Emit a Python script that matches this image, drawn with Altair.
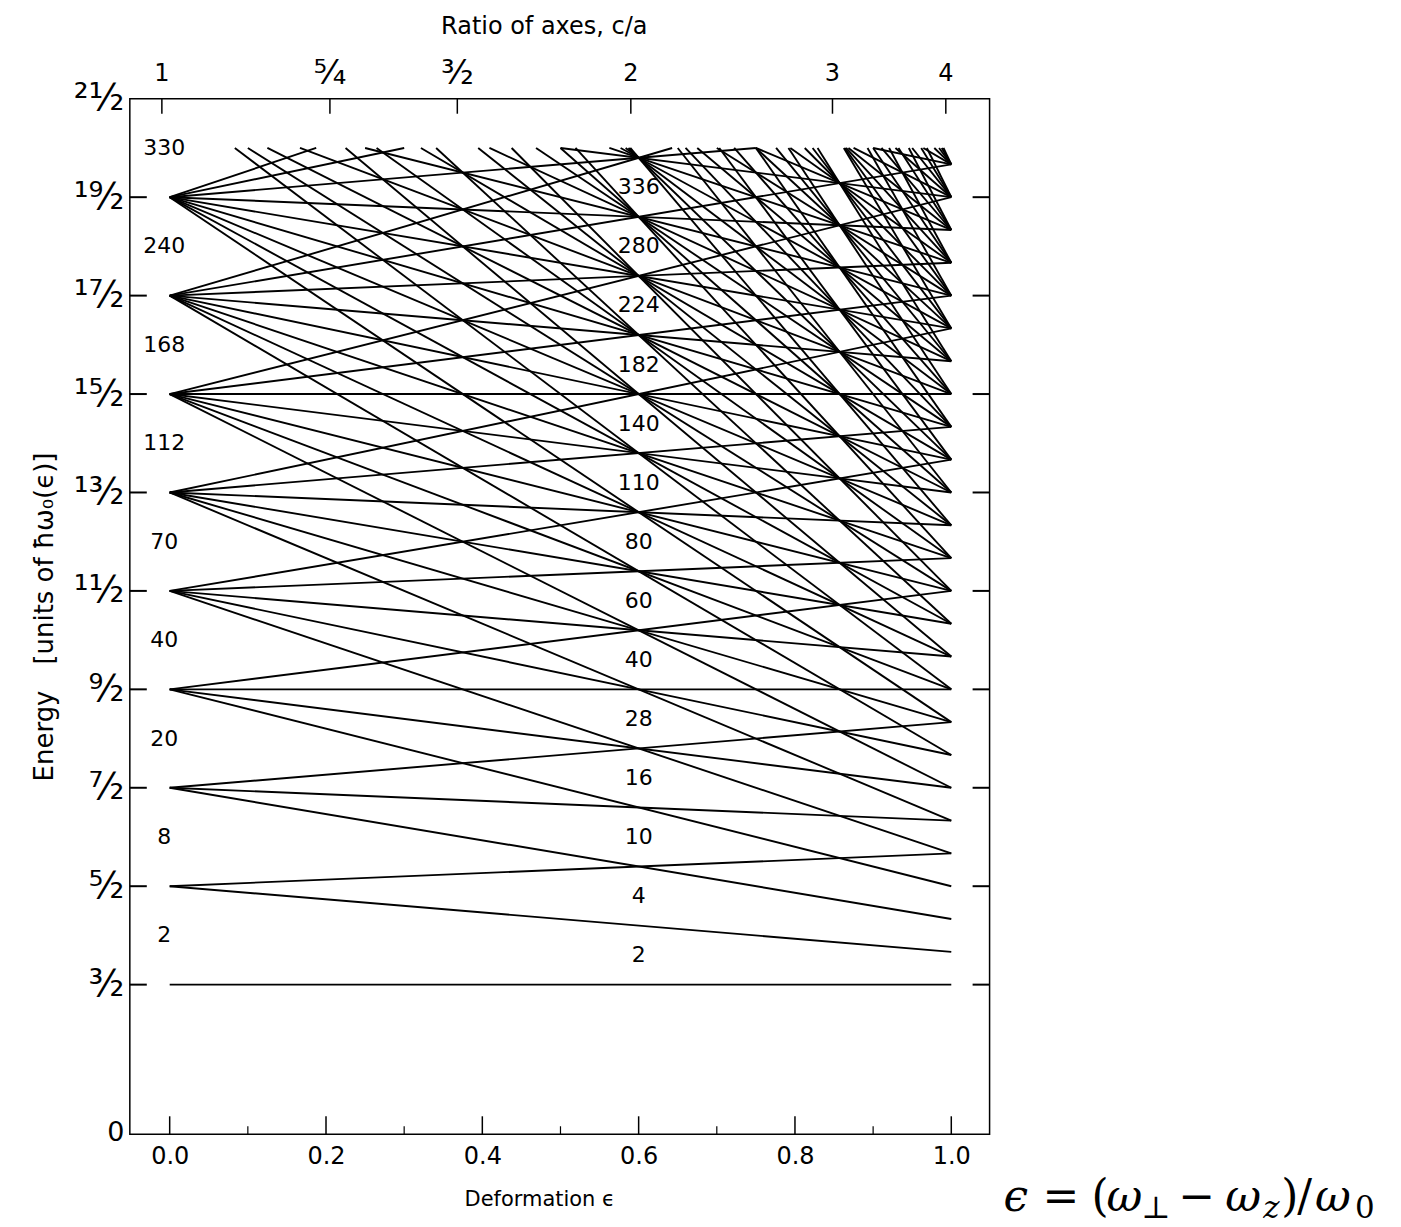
import altair as alt
import pandas as pd

# ---------------- data ----------------
# energy of each oscillator shell at zero deformation (units of hbar*omega0)
shell_energy_at_0 = [1.5, 2.5, 3.5, 4.5, 5.5, 6.5, 7.5, 8.5, 9.5, 10.5, 11.5, 12.5, 13.5,
                     14.5, 15.5, 16.5, 17.5, 18.5, 19.5, 20.5, 21.5, 22.5, 23.5, 24.5, 25.5, 26.5]
# energy of each level of that shell at deformation 1.0 (c/a = 4), in sixths of hbar*omega0
shell_energy_at_1_sixths = [
    [9],
    [17, 11],
    [25, 19, 13],
    [33, 27, 21, 15],
    [41, 35, 29, 23, 17],
    [49, 43, 37, 31, 25, 19],
    [57, 51, 45, 39, 33, 27, 21],
    [65, 59, 53, 47, 41, 35, 29, 23],
    [73, 67, 61, 55, 49, 43, 37, 31, 25],
    [57, 51, 45, 39, 33, 27],
    [59, 53, 47, 41, 35, 29],
    [55, 49, 43, 37, 31],
    [57, 51, 45, 39, 33],
    [59, 53, 47, 41, 35],
    [55, 49, 43, 37],
    [57, 51, 45, 39],
    [59, 53, 47, 41],
    [55, 49, 43],
    [57, 51, 45],
    [59, 53, 47],
    [55, 49],
    [57, 51],
    [59, 53],
    [55],
    [57],
    [59],
]
energy_cutoff = 10.0  # levels are drawn up to this energy

spherical_magic = ["2", "8", "20", "40", "70", "112", "168", "240", "330"]
spherical_magic_energy = [2, 3, 4, 5, 6, 7, 8, 9, 10]
spherical_magic_eps = -0.007

deformed_magic = ["2", "4", "10", "16", "28", "40", "60", "80", "110", "140", "182", "224", "280", "336"]
deformed_magic_energy = [1.8, 2.4, 3.0, 3.6, 4.2, 4.8, 5.4, 6.0, 6.6, 7.2, 7.8, 8.4, 9.0, 9.6]
deformed_magic_eps = 0.6

energy_tick_values = [0, 1.5, 2.5, 3.5, 4.5, 5.5, 6.5, 7.5, 8.5, 9.5, 10.5]
energy_tick_labels = ["0", "³⁄₂", "⁵⁄₂", "⁷⁄₂", "⁹⁄₂", "¹¹⁄₂", "¹³⁄₂", "¹⁵⁄₂", "¹⁷⁄₂", "¹⁹⁄₂", "²¹⁄₂"]
inner_energy_ticks = [1.5, 2.5, 3.5, 4.5, 5.5, 6.5, 7.5, 8.5, 9.5]

deformation_major = [0.0, 0.2, 0.4, 0.6, 0.8, 1.0]
deformation_minor = [0.1, 0.3, 0.5, 0.7, 0.9]

ratio_labels = ["1", "⁵⁄₄", "³⁄₂", "2", "3", "4"]
ratio_eps = [-0.01, 0.205, 0.368, 0.59, 0.848, 0.993]

# ---------------- layout ----------------
W, H = 861, 1037
X_DOMAIN = [-0.051, 1.049]
Y_DOMAIN = [-0.02, 10.5]
FONT = "DejaVu Sans"

xs = alt.Scale(domain=X_DOMAIN, nice=False, zero=False)
ys = alt.Scale(domain=Y_DOMAIN, nice=False, zero=False)

label_expr = " : ".join(
    f"datum.value == {v} ? '{l}'" for v, l in zip(energy_tick_values, energy_tick_labels)
) + " : ''"

x_axis = alt.Axis(
    orient="bottom", values=deformation_major, format=".1f", ticks=False, domain=False,
    grid=False, labelFontSize=24, labelFont=FONT, labelColor="black", labelPadding=10,
    labelFlush=False, labelOverlap=False,
    title="Deformation ϵ", titleFont=FONT, titleFontSize=21, titleFontWeight="normal",
    titleColor="black", titleX=410, titleY=65, titleAlign="center", titleBaseline="middle")
y_axis = alt.Axis(
    orient="left", values=energy_tick_values, labelExpr=label_expr, ticks=False,
    domain=False, grid=False,
    labelFontSize={"condition": {"test": "datum.value == 0", "value": 27}, "value": 37},
    labelFont=FONT, labelColor="black", labelPadding=6, labelFlush=False,
    labelOverlap=False, labelBound=False,
    title="Energy\u2003[units of ħω₀(ϵ)]", titleFont=FONT, titleFontSize=26,
    titleFontWeight="normal", titleColor="black", titleX=-85, titleY=H / 2,
    titleAngle=270, titleAlign="center", titleBaseline="middle")


def X(field):
    return alt.X(field, type="quantitative", scale=xs, axis=x_axis)


def Y(field):
    return alt.Y(field, type="quantitative", scale=ys, axis=y_axis)


# ---------------- level lines (clipped at the cutoff) ----------------
rows = []
for E0, ends in zip(shell_energy_at_0, shell_energy_at_1_sixths):
    for s in ends:
        E1 = s / 6.0
        a_eps, a_E, b_eps, b_E = 0.0, E0, 1.0, E1
        if E0 > energy_cutoff:
            a_eps = (E0 - energy_cutoff) / (E0 - E1)
            a_E = energy_cutoff
        if E1 > energy_cutoff:
            b_eps = (energy_cutoff - E0) / (E1 - E0)
            b_E = energy_cutoff
        rows.append({"eps_a": a_eps, "E_a": a_E, "eps_b": b_eps, "E_b": b_E})
lines_df = pd.DataFrame(rows)

lines = alt.Chart(lines_df).mark_rule(color="black", strokeWidth=1.9).encode(
    x=X("eps_a"), x2="eps_b", y=Y("E_a"), y2="E_b")

# ---------------- inward ticks ----------------
ticks_E = pd.DataFrame({"E": inner_energy_ticks})
left_ticks = alt.Chart(ticks_E).mark_rule(color="black", strokeWidth=2).encode(
    y=Y("E"), x=alt.value(0), x2=alt.value(17))
right_ticks = alt.Chart(ticks_E).mark_rule(color="black", strokeWidth=2).encode(
    y=Y("E"), x=alt.value(W - 17), x2=alt.value(W))

bottom_major = alt.Chart(pd.DataFrame({"eps": deformation_major})).mark_rule(
    color="black", strokeWidth=1.5).encode(x=X("eps"), y=alt.value(H), y2=alt.value(H - 18))
bottom_minor = alt.Chart(pd.DataFrame({"eps": deformation_minor})).mark_rule(
    color="black", strokeWidth=1.2).encode(x=X("eps"), y=alt.value(H), y2=alt.value(H - 8))

ratio_df = pd.DataFrame({"eps": ratio_eps, "label": ratio_labels})
top_ticks = alt.Chart(ratio_df).mark_rule(color="black", strokeWidth=1.5).encode(
    x=X("eps"), y=alt.value(0), y2=alt.value(15))

is_frac = ratio_df["label"].str.contains("⁄")
top_int_labels = alt.Chart(ratio_df[~is_frac]).mark_text(
    font=FONT, fontSize=24, color="black", baseline="middle", align="center").encode(
    x=X("eps"), y=alt.value(-25), text="label:N")
top_frac_labels = alt.Chart(ratio_df[is_frac]).mark_text(
    font=FONT, fontSize=34, color="black", baseline="middle", align="center").encode(
    x=X("eps"), y=alt.value(-25), text="label:N")
top_title = alt.Chart(pd.DataFrame({"t": ["Ratio of axes, c/a"]})).mark_text(
    font=FONT, fontSize=24, color="black", baseline="middle", align="center").encode(
    x=alt.value(415), y=alt.value(-72), text="t:N")

# ---------------- magic numbers ----------------
sph_df = pd.DataFrame({"eps": [spherical_magic_eps] * len(spherical_magic),
                       "E": spherical_magic_energy, "label": spherical_magic})
def_df = pd.DataFrame({"eps": [deformed_magic_eps] * len(deformed_magic),
                       "E": deformed_magic_energy, "label": deformed_magic})
sph_text = alt.Chart(sph_df).mark_text(font=FONT, fontSize=22, color="black",
                                       baseline="middle", align="center").encode(
    x=X("eps"), y=Y("E"), text="label:N")
def_text = alt.Chart(def_df).mark_text(font=FONT, fontSize=22, color="black",
                                       baseline="middle", align="center").encode(
    x=X("eps"), y=Y("E"), text="label:N")

# ---------------- formula annotation: eps = (w_perp - w_z)/w_0 ----------------
ox, oy = 130, 98  # plot origin on the page
# (text, left edge on page, italic, subscript)
formula_pieces = [
    ("ϵ", 1005, True, False),
    ("=", 1044, False, False),
    ("(", 1093, False, False),
    ("ω", 1108, True, False),
    ("⊥", 1143, False, True),
    ("−", 1180, False, False),
    ("ω", 1227, True, False),
    ("z", 1265, True, True),
    (")", 1283, False, False),
    ("/", 1299, False, False),
    ("ω", 1317, True, False),
    ("0", 1357, False, True),
]
formula_layers = []
for t, px, italic, is_sub in formula_pieces:
    formula_layers.append(
        alt.Chart(pd.DataFrame({"t": [t]})).mark_text(
            font="DejaVu Serif", fontSize=31 if is_sub else 44,
            fontStyle="italic" if italic else "normal", color="black",
            align="left", baseline="alphabetic").encode(
            x=alt.value(px - ox), y=alt.value((1219 if is_sub else 1212) - oy), text="t:N")
    )

chart = alt.layer(
    lines, left_ticks, right_ticks, bottom_major, bottom_minor, top_ticks,
    top_int_labels, top_frac_labels, top_title, sph_text, def_text, *formula_layers
).properties(
    width=W, height=H,
    autosize=alt.AutoSizeParams(type="none"),
    padding={"left": 122, "top": 90, "right": 404, "bottom": 92},
    background="white",
).configure_view(stroke="black", strokeWidth=1.5)

chart.save("out.html", embed_options={"renderer": "svg", "actions": False})
